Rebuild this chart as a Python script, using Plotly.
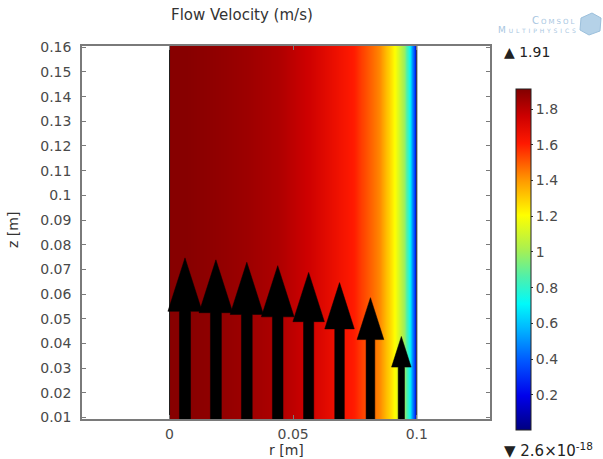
import plotly.graph_objects as go

# ---------------- data ----------------
# velocity magnitude read per radial cell (edges -> cell values)
cell_edges_r = [0.0, 0.0125, 0.025, 0.0375, 0.05, 0.0625, 0.075, 0.08, 0.085, 0.0875,
                0.09, 0.0925, 0.095, 0.096, 0.097, 0.098, 0.099, 0.0995, 0.1]
cell_v = [1.90, 1.88, 1.855, 1.82, 1.75, 1.645, 1.545, 1.465, 1.38,
          1.29, 1.18, 1.04, 0.90, 0.80, 0.64, 0.43, 0.22, 0.08]

arrow_r = [0.00625, 0.01875, 0.03125, 0.04375, 0.05625, 0.06875, 0.08125, 0.09375]
arrow_v = [1.90, 1.88, 1.855, 1.82, 1.75, 1.645, 1.49, 1.09]

x_tick_vals = [0, 0.05, 0.1]
x_tick_text = ["0", "0.05", "0.1"]
y_tick_vals = [0.01, 0.02, 0.03, 0.04, 0.05, 0.06, 0.07, 0.08, 0.09, 0.10,
               0.11, 0.12, 0.13, 0.14, 0.15, 0.16]
y_tick_text = ["0.01", "0.02", "0.03", "0.04", "0.05", "0.06", "0.07", "0.08",
               "0.09", "0.1", "0.11", "0.12", "0.13", "0.14", "0.15", "0.16"]
cbar_tick_vals = [0.2, 0.4, 0.6, 0.8, 1.0, 1.2, 1.4, 1.6, 1.8]
cbar_tick_text = ["0.2", "0.4", "0.6", "0.8", "1", "1.2", "1.4", "1.6", "1.8"]
v_max_label = "1.91"
v_min_label = "2.6×10<sup>-18</sup>"
z_extent = [0.0, 0.17]

# ---------------- style ----------------
W, H = 603, 459
L, R, T, B = 82, 113, 46, 40
PW, PH = W - L - R, H - T - B
FONT = "DejaVu Sans"
GRAY = "#4a4a4a"
FRAME = "#7a7a7a"

rainbow = [
    [0.00, "rgb(0,0,128)"],
    [0.10, "rgb(0,0,235)"],
    [0.20, "rgb(0,85,255)"],
    [0.30, "rgb(0,185,255)"],
    [0.37, "rgb(0,250,250)"],
    [0.45, "rgb(80,240,170)"],
    [0.53, "rgb(170,240,80)"],
    [0.63, "rgb(255,255,0)"],
    [0.73, "rgb(255,155,0)"],
    [0.84, "rgb(255,25,0)"],
    [0.92, "rgb(205,0,0)"],
    [1.00, "rgb(130,0,0)"],
]

ARROW_SCALE = 0.0393   # metres of arrow per m/s
ARROW_BASE = 0.0
HEAD_LEN = 0.29
HEAD_W = 0.185
SHAFT_W = 0.06


def px(xp):
    return (xp - L) / PW


def py(yp):
    return (H - B - yp) / PH


fig = go.Figure()

fig.add_trace(go.Heatmap(
    x=cell_edges_r, y=z_extent, z=[cell_v],
    zsmooth="best", colorscale=rainbow, zmin=0, zmax=float(v_max_label),
    hoverinfo="skip",
    colorbar=dict(
        x=px(515.5), xanchor="left", xpad=0,
        y=py(260), yanchor="middle", ypad=0,
        len=(430.7 - 89.3) / PH, lenmode="fraction",
        thickness=15, thicknessmode="pixels",
        outlinewidth=1, outlinecolor="#222",
        tickvals=cbar_tick_vals, ticktext=cbar_tick_text,
        ticks="outside", ticklen=2, tickcolor="#333",
        tickfont=dict(family=FONT, size=14, color=GRAY),
    ),
))

# domain boundaries
for rb in (cell_edges_r[0], cell_edges_r[-1]):
    fig.add_trace(go.Scatter(x=[rb, rb], y=z_extent, mode="lines",
                             line=dict(color="#202020", width=1),
                             hoverinfo="skip", showlegend=False))

# arrows
for r0, v in zip(arrow_r, arrow_v):
    Ltot = v * ARROW_SCALE
    hl = HEAD_LEN * Ltot
    hw = HEAD_W * Ltot / 2
    sw = SHAFT_W * Ltot / 2
    zb = ARROW_BASE
    zh = zb + Ltot - hl
    zt = zb + Ltot
    xs = [r0 - sw, r0 - sw, r0 - hw, r0, r0 + hw, r0 + sw, r0 + sw, r0 - sw]
    ys = [zb, zh, zh, zt, zh, zh, zb, zb]
    fig.add_trace(go.Scatter(x=xs, y=ys, mode="lines", fill="toself",
                             fillcolor="black", line=dict(color="black", width=0.5),
                             hoverinfo="skip", showlegend=False))

axis_common = dict(showline=True, mirror="ticks", linecolor=FRAME, linewidth=1.5,
                   ticks="inside", ticklen=4, tickcolor=FRAME, tickwidth=1,
                   showgrid=False, zeroline=False,
                   tickfont=dict(family=FONT, size=14, color=GRAY))

fig.update_layout(
    width=W, height=H,
    margin=dict(l=L, r=R, t=T, b=B, pad=0),
    paper_bgcolor="white", plot_bgcolor="white",
    showlegend=False,
    xaxis=dict(range=[-0.0354, 0.1296], tickvals=x_tick_vals, ticktext=x_tick_text,
               ticklabelstandoff=1, **axis_common),
    yaxis=dict(range=[0.0094, 0.1605], tickvals=y_tick_vals, ticktext=y_tick_text,
               ticklabelstandoff=6, **axis_common),
    font=dict(family=FONT, color=GRAY),
)

ann = [
    dict(text="Flow Velocity (m/s)", x=px(242), y=py(15), font=dict(size=15, color="#333")),
    dict(text="z [m]", x=px(13), y=py(230), textangle=-90, font=dict(size=14, color="#333")),
    dict(text="r [m]", x=px(286), y=py(450), font=dict(size=14, color="#333")),
    dict(text="▲ " + v_max_label, x=px(502), y=py(52), xanchor="left",
         font=dict(size=14, color="#222")),
    dict(text="▼ " + v_min_label, x=px(502), y=py(450), xanchor="left",
         font=dict(size=15, color="#222")),
    dict(text="C\u2009o\u2009m\u2009s\u2009o\u2009l", x=px(576), y=py(21), xanchor="right",
         font=dict(size=10, color="#a8c6df", variant="small-caps")),
    dict(text="M u l t i p h y s i c s", x=px(578), y=py(30), xanchor="right",
         font=dict(size=9, color="#a8c6df", variant="small-caps")),
]
for a in ann:
    a.setdefault("xanchor", "center")
    fig.add_annotation(xref="paper", yref="paper", showarrow=False,
                       yanchor="middle", **a)

# logo cube
cube = [(581, 18), (592, 13), (601, 18), (600, 31), (589, 35), (580, 30)]
path = "M " + " L ".join(f"{px(a)},{py(b)}" for a, b in cube) + " Z"
fig.add_shape(type="path", xref="paper", yref="paper", path=path,
              fillcolor="#b5d2e8", line=dict(color="#9cc0dc", width=1))

fig.write_html("out.html")
